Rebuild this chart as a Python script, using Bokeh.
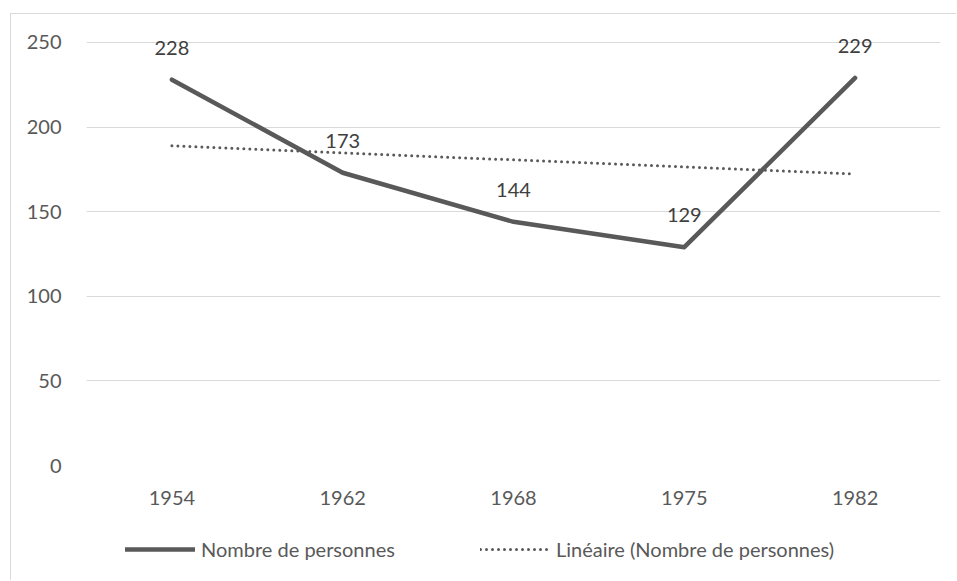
import numpy as np
from bokeh.plotting import figure
from bokeh.layouts import column
from bokeh.models import FactorRange, Range1d, FixedTicker, Legend, LegendItem, ColumnDataSource
from bokeh.core.properties import value
from bokeh.embed import file_html
from bokeh.resources import INLINE

years = ["1954", "1962", "1968", "1975", "1982"]
persons = [228, 173, 144, 129, 229]
y_ticks = [0, 50, 100, 150, 200, 250]
series_name = "Nombre de personnes"
trend_name = "Linéaire (Nombre de personnes)"

# linear trendline (least squares over category index), as Excel does
idx = np.arange(len(persons))
slope, intercept = np.polyfit(idx, persons, 1)
trend = [float(intercept + slope * i) for i in idx]

FONT = "Lato"
DARK = "#595959"
MAIN_STYLE = dict(line_color=DARK, line_width=4.5, line_cap="round", line_join="round")
TREND_STYLE = dict(line_color=DARK, line_width=3, line_dash="0 6", line_cap="round")

src = ColumnDataSource(dict(x=years, y=persons, lab=[str(v) for v in persons]))
tsrc = ColumnDataSource(dict(x=years, y=trend))

p = figure(
    x_range=FactorRange(*years, range_padding=0),
    y_range=Range1d(0, 260),
    width=945, height=506,
    output_backend="svg", toolbar_location=None,
    min_border_left=75, min_border_right=16, min_border_top=11, min_border_bottom=55,
)
p.outline_line_color = None
p.background_fill_color = "white"
p.border_fill_color = "white"

p.line("x", "y", source=src, **MAIN_STYLE)
p.line("x", "y", source=tsrc, **TREND_STYLE)

p.text("x", "y", text="lab", source=src, text_align="center", text_baseline="middle",
       y_offset=-32, text_font=value(FONT), text_font_size="20px", text_color="#404040")

p.yaxis.ticker = FixedTicker(ticks=y_ticks)
p.ygrid.ticker = FixedTicker(ticks=y_ticks)
p.ygrid.grid_line_color = "#d9d9d9"
p.ygrid.grid_line_width = 1
p.xgrid.grid_line_color = None

for ax in (p.xaxis[0], p.yaxis[0]):
    ax.axis_line_color = None
    ax.major_tick_line_color = None
    ax.minor_tick_line_color = None
    ax.major_label_text_color = DARK
    ax.major_label_text_font = FONT
    ax.major_label_text_font_size = "20px"
p.yaxis.major_label_standoff = 19
p.xaxis.major_label_standoff = 19

# legend strip below the chart (its renderers carry no visible data)
leg = figure(
    width=945, height=60, x_range=Range1d(0, 1), y_range=Range1d(0, 1),
    x_axis_type=None, y_axis_type=None,
    output_backend="svg", toolbar_location=None, min_border=0,
)
leg.outline_line_color = None
leg.xgrid.grid_line_color = None
leg.ygrid.grid_line_color = None
r_main = leg.line(x=[np.nan], y=[np.nan], **MAIN_STYLE)
r_trend = leg.line(x=[np.nan], y=[np.nan], **TREND_STYLE)
legend = Legend(
    items=[LegendItem(label=series_name, renderers=[r_main]),
           LegendItem(label=trend_name, renderers=[r_trend])],
    location=(39, 19), orientation="horizontal",
    glyph_width=70, glyph_height=20, label_standoff=6, spacing=85,
    padding=0, margin=0, border_line_color=None, background_fill_alpha=0,
    label_text_font=FONT, label_text_font_size="20px", label_text_color=DARK,
)
leg.add_layout(legend, "center")

layout = column(p, leg, spacing=0, margin=(13, 0, 0, 10),
                styles={"border-left": "1px solid #d9d9d9", "border-top": "1px solid #d9d9d9"})

open("out.html", "w").write(file_html(layout, INLINE))
